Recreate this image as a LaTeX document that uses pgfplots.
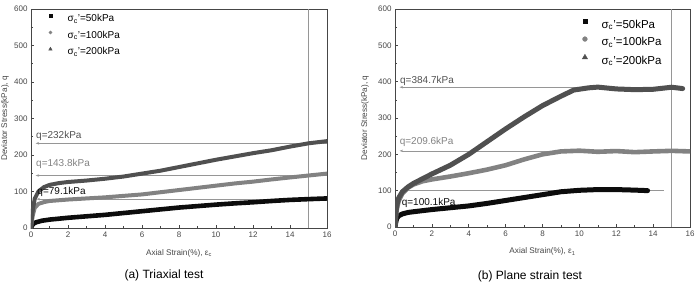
\documentclass[border=0pt]{standalone}
\usepackage{pgfplots}
\pgfplotsset{compat=1.18}
\usepackage{fontspec}
\setmainfont{Liberation Sans}
\usetikzlibrary{arrows.meta}

\definecolor{c50}{RGB}{12,12,12}
\definecolor{c100}{RGB}{130,130,130}
\definecolor{c200}{RGB}{80,80,80}
\definecolor{refline}{RGB}{150,150,150}
\definecolor{axcol}{RGB}{70,70,70}

\pgfplotsset{
  stressaxis/.style={
    scale only axis,
    xmin=0, xmax=16, ymin=0, ymax=600,
    xtick={0,2,...,16}, ytick={0,100,...,600},
    minor x tick num=1, minor y tick num=1,
    xtick pos=left, ytick pos=left,
    tick align=inside,
    major tick length=3pt, minor tick length=2pt,
    every tick/.style={axcol, line width=0.6pt},
    axis line style={axcol, line width=0.8pt},
    ticklabel style={font=\fontsize{8}{9}\selectfont, text=axcol},
    /pgf/number format/assume math mode=true,
    xlabel style={font=\fontsize{8.2}{9}\selectfont, text=axcol,
      at={(axis description cs:0.5,-0.114)}, anchor=center},
    ylabel={Deviator Stress(kPa), q},
    legend cell align=left,
  },
  smallkey/.style={
    legend image code/.code={%
      \path (0cm,-1pt) (0.9cm,1pt);
      \draw[##1] plot coordinates {(0.3cm,3pt)};},
  },
  largekey/.style={
    legend image code/.code={%
      \path (0cm,-1pt) (0.88cm,1pt);
      \draw[##1] plot coordinates {(0.3cm,3.5pt)};},
  },
  curve/.style={no marks, line join=round, line cap=round},
  qline/.style={refline, line width=0.5pt, no marks,
    {Stealth[length=3.5pt,width=2.5pt]}-},
}

\begin{document}
\begin{tikzpicture}
\useasboundingbox (0,0) rectangle (699pt,284pt);

% ---------------- (a) Triaxial test ----------------
\begin{axis}[stressaxis, smallkey,
  at={(31pt,56pt)}, anchor=south west,
  width=296pt, height=219pt,
  xlabel={Axial Strain(\%), ε\textsubscript{c}},
  ylabel style={font=\fontsize{8.2}{9}\selectfont, text=axcol,
    at={(axis description cs:-0.088,0.5)}, anchor=center},
  legend style={draw=none, fill=none, inner sep=0pt,
    at={(axis description cs:0,1)}, anchor=north west,
    xshift=10.5pt, yshift=-5pt, row sep=7pt,
    font=\fontsize{10}{11}\selectfont,
    nodes={inner sep=0pt, text height=7.5pt, text depth=2pt}},
]
\addlegendimage{only marks, mark=square*, c50, mark size=1.5pt}
\addlegendentry{σ\textsubscript{c}'=50kPa}
\addlegendimage{only marks, mark=*, c100, mark size=1.6pt}
\addlegendentry{σ\textsubscript{c}'=100kPa}
\addlegendimage{only marks, mark=triangle*, c200, mark size=2pt}
\addlegendentry{σ\textsubscript{c}'=200kPa}

% strain 15 % reference
\addplot[refline, line width=0.6pt, no marks, forget plot] coordinates {(15,0) (15,600)};

% values at 15 % strain
\addplot[qline, forget plot] coordinates {(0.25,232) (16,232)};
\addplot[qline, forget plot] coordinates {(0.25,143.8) (16,143.8)};
\addplot[qline, forget plot] coordinates {(0.3,79.1) (16,79.1)};

% sigma_c' = 50 kPa
\addplot[curve, c50, line width=4.6pt, forget plot] coordinates {
 (0,0) (0.05,6) (0.1,10) (0.2,14) (0.3,16) (0.6,20) (1,23) (2,28) (3,32)
 (4,36) (5,41) (6,46) (7,51) (8,56) (9,60) (10,64) (11,67.5) (12,70.5)
 (13,74) (14,77) (15,79.1) (16,81)};
% sigma_c' = 100 kPa
\addplot[curve, c100, line width=4pt, forget plot] coordinates {
 (0,0) (0.05,20) (0.1,35) (0.2,55) (0.4,66) (0.7,71) (1,74) (2,78) (3,81)
 (4,84) (5,88) (6,92) (7,98) (8,104) (9,110) (10,116) (11,122) (12,127)
 (13,133) (14,138.5) (15,143.8) (16,149)};
% sigma_c' = 200 kPa
\addplot[curve, c200, line width=4pt, forget plot] coordinates {
 (0,0) (0.05,30) (0.1,50) (0.2,80) (0.4,100) (0.7,112) (1,118) (1.5,123)
 (2,126) (3,130) (4,135) (5,141) (6,149) (7,157) (8,167) (9,177) (10,187)
 (11,196) (12,205) (13,213) (14,223) (15,232) (16,238)};

\node[anchor=west, text=c200, font=\fontsize{10}{11}\selectfont, inner sep=0pt]
  at (axis cs:0.27,252) {q=232kPa};
\node[anchor=west, text=c100, font=\fontsize{10}{11}\selectfont, inner sep=0pt]
  at (axis cs:0.27,175) {q=143.8kPa};
\node[anchor=west, text=c50, font=\fontsize{10}{11}\selectfont, inner sep=0pt]
  at (axis cs:0.34,99) {q=79.1kPa};
\end{axis}

% ---------------- (b) Plane strain test ----------------
\begin{axis}[stressaxis, largekey,
  at={(395pt,57pt)}, anchor=south west,
  width=295pt, height=218pt,
  xlabel={Axial Strain(\%), ε\textsubscript{1}},
  ylabel style={font=\fontsize{8.2}{9}\selectfont, text=axcol,
    at={(axis description cs:-0.102,0.5)}, anchor=center},
  legend style={draw=none, fill=none, inner sep=0pt,
    at={(axis description cs:0,1)}, anchor=north west,
    xshift=181pt, yshift=-10pt, row sep=6.5pt,
    font=\fontsize{11.5}{12}\selectfont,
    nodes={inner sep=0pt, text height=8.5pt, text depth=2pt}},
]
\addlegendimage{only marks, mark=square*, c50, mark size=2.2pt}
\addlegendentry{σ\textsubscript{c}'=50kPa}
\addlegendimage{only marks, mark=*, c100, mark size=2.4pt}
\addlegendentry{σ\textsubscript{c}'=100kPa}
\addlegendimage{only marks, mark=triangle*, c200, mark size=3pt}
\addlegendentry{σ\textsubscript{c}'=200kPa}

\addplot[refline, line width=0.6pt, no marks, forget plot] coordinates {(15,0) (15,600)};

\addplot[qline, forget plot] coordinates {(0.25,384.7) (15.6,384.7)};
\addplot[qline, forget plot] coordinates {(0.25,209.6) (16,209.6)};
\addplot[qline, forget plot] coordinates {(0.3,100.1) (14.6,100.1)};

% sigma_c' = 50 kPa
\addplot[curve, c50, line width=5pt, forget plot] coordinates {
 (0,0) (0.05,15) (0.1,24) (0.2,31) (0.4,36) (0.7,40) (1,42) (2,48) (3,53)
 (4,58) (5,65) (6,73) (7,81) (8,89) (9,97) (10,101) (11,103) (12,103)
 (13,101.5) (13.7,100.1)};
% sigma_c' = 100 kPa
\addplot[curve, c100, line width=4.6pt, forget plot] coordinates {
 (0,0) (0.05,30) (0.1,50) (0.2,72) (0.4,92) (0.7,108) (1,117) (1.5,126)
 (2,131) (3,139) (4,148) (5,158) (6,170) (7,186) (8,200) (9,208) (10,210)
 (11,207) (12,209) (13,206) (14,208) (15,209.6) (16,208)};
% sigma_c' = 200 kPa
\addplot[curve, c200, line width=5pt, forget plot] coordinates {
 (0,0) (0.05,40) (0.1,60) (0.2,80) (0.4,97) (0.7,110) (1,120) (1.5,133)
 (2,146) (3,170) (4,200) (5,235) (6,270) (7,303) (8,334) (9,360) (9.7,377)
 (10.5,383) (11,385) (12,380) (13,378) (14,379) (15,384.7) (15.6,381)};

\node[anchor=west, text=c200, font=\fontsize{10}{11}\selectfont, inner sep=0pt]
  at (axis cs:0.27,402) {q=384.7kPa};
\node[anchor=west, text=c100, font=\fontsize{10}{11}\selectfont, inner sep=0pt]
  at (axis cs:0.25,235) {q=209.6kPa};
\node[anchor=west, text=c50, font=\fontsize{10}{11}\selectfont, inner sep=0pt]
  at (axis cs:0.36,65) {q=100.1kPa};
\end{axis}

% captions
\node[font=\fontsize{12}{13}\selectfont] at (164pt,9pt) {(a) Triaxial test};
\node[font=\fontsize{12}{13}\selectfont] at (530pt,8pt) {(b) Plane strain test};
\end{tikzpicture}
\end{document}
